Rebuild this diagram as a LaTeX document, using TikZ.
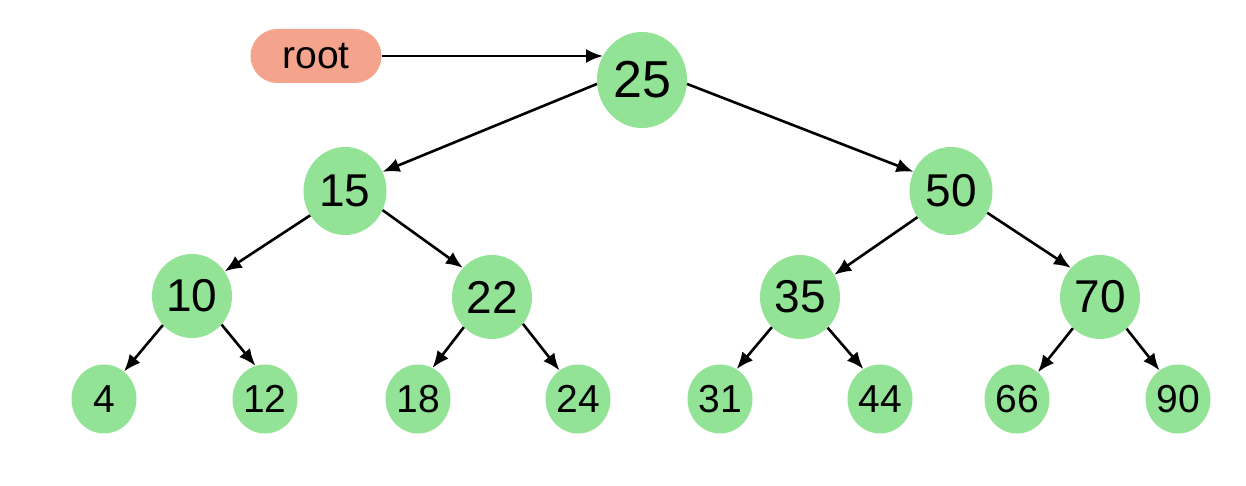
\documentclass[tikz,border=0pt]{standalone}
\usepackage{fontspec}
\setmainfont{Liberation Sans}
\usetikzlibrary{shapes.geometric,arrows.meta}
\definecolor{nodegreen}{RGB}{146,227,149}
\definecolor{rootsalmon}{RGB}{244,164,140}
\begin{document}
\begin{tikzpicture}[x=1pt,y=-1pt,
  bst/.style={ellipse, fill=nodegreen, inner sep=0pt, text=black},
  big/.style={bst, minimum width=90pt, minimum height=96pt, font=\fontsize{52}{52}\selectfont},
  lvlone/.style={bst, minimum width=83pt, minimum height=88pt, font=\fontsize{46}{46}\selectfont},
  lvltwo/.style={bst, minimum width=80pt, minimum height=84pt, font=\fontsize{46}{46}\selectfont},
  leaf/.style={bst, minimum width=65pt, minimum height=69pt, font=\fontsize{39}{39}\selectfont},
  rootbox/.style={rectangle, rounded corners=27pt, fill=rootsalmon, minimum width=131pt, minimum height=54pt, inner sep=0pt, font=\fontsize{39}{39}\selectfont},
  edge/.style={-{Latex[length=17pt,width=14pt]}, line width=2.6pt}]
\useasboundingbox (0,0) rectangle (1246,486);
\fill[white] (0,0) rectangle (1246,486);

\node[rootbox] (root) at (316,56) {root};
\node[big] (n25) at (642,80) {25};
\node[lvlone] (n15) at (345,191) {15};
\node[lvlone] (n50) at (951,191) {50};
\node[lvltwo] (n10) at (192,296) {10};
\node[lvltwo] (n22) at (492,297) {22};
\node[lvltwo] (n35) at (800,297) {35};
\node[lvltwo] (n70) at (1100,297) {70};
\node[leaf] (n4) at (104,399) {4};
\node[leaf] (n12) at (265,399) {12};
\node[leaf] (n18) at (418,399) {18};
\node[leaf] (n24) at (578,399) {24};
\node[leaf] (n31) at (720,399) {31};
\node[leaf] (n44) at (880,399) {44};
\node[leaf] (n66) at (1017,399) {66};
\node[leaf] (n90) at (1178,399) {90};

\draw[edge] (root.east) -- (root.east -| n25.148);
\draw[edge] (n25.185) -- (n15.27);
\draw[edge] (n25.355) -- (n50.153);
\draw[edge] (n15.215) -- (n10.37);
\draw[edge] (n15.333) -- (n22.135);
\draw[edge] (n50.218) -- (n35.33);
\draw[edge] (n50.329) -- (n70.135);
\draw[edge] (n10.225) -- (n4.54);
\draw[edge] (n10.316) -- (n12.106);
\draw[edge] (n22.227) -- (n18.65);
\draw[edge] (n22.319) -- (n24.123);
\draw[edge] (n35.227) -- (n31.61);
\draw[edge] (n35.312) -- (n44.119);
\draw[edge] (n70.229) -- (n66.52);
\draw[edge] (n70.310) -- (n90.123);
\end{tikzpicture}
\end{document}
